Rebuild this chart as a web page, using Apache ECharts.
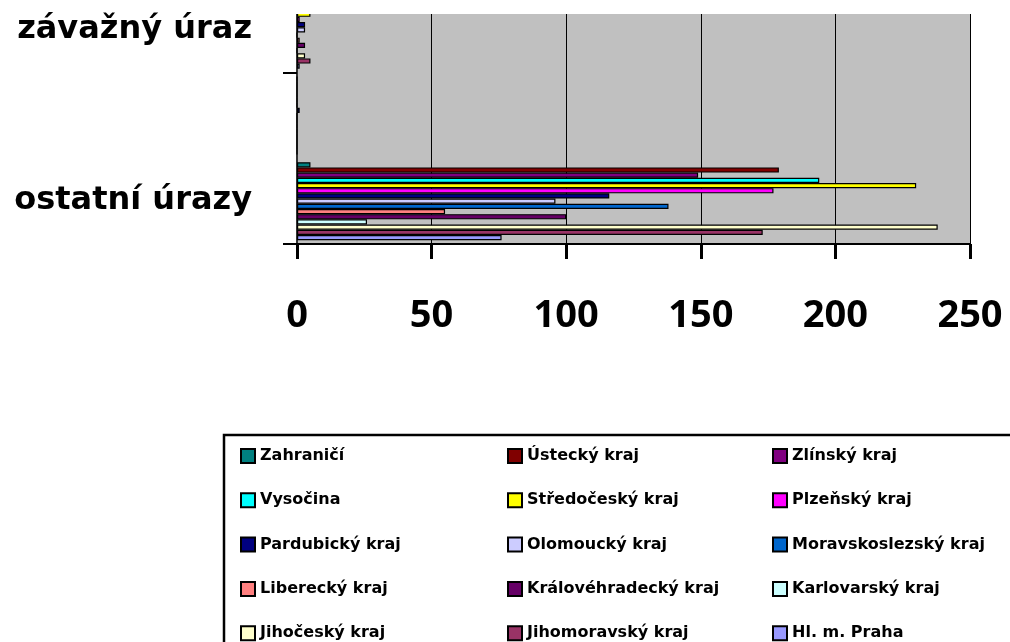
<!DOCTYPE html>
<html>
<head>
<meta charset="utf-8">
<script src="https://cdn.jsdelivr.net/npm/echarts@6/dist/echarts.min.js"></script>
<style>
html,body{margin:0;padding:0;background:#fff;overflow:hidden;}
#wrap{width:1010px;height:642px;overflow:hidden;position:relative;}
#chart{width:1010px;height:655px;position:absolute;left:0;top:-13px;}
</style>
</head>
<body>
<div id="wrap"><div id="chart"></div></div>
<script>
// Categories, bottom to top
const categories = ['ostatní úrazy', 'smrtelný úraz', 'závažný úraz'];
const xTicks = [0, 50, 100, 150, 200, 250];

const seriesNames = [
  'Zahraničí', 'Ústecký kraj', 'Zlínský kraj',
  'Vysočina', 'Středočeský kraj', 'Plzeňský kraj',
  'Pardubický kraj', 'Olomoucký kraj', 'Moravskoslezský kraj',
  'Liberecký kraj', 'Královéhradecký kraj', 'Karlovarský kraj',
  'Jihočeský kraj', 'Jihomoravský kraj', 'Hl. m. Praha'
];
const seriesColors = [
  '#008080', '#800000', '#800080',
  '#00FFFF', '#FFFF00', '#FF00FF',
  '#000080', '#CCCCFF', '#0066CC',
  '#FF8080', '#660066', '#CCFFFF',
  '#FFFFCC', '#993366', '#9999FF'
];
// values per series: [ostatní úrazy, smrtelný úraz, závažný úraz]
const valZahranici       = [5, 0, 1];
const valUstecky         = [179, 0, 2];
const valZlinsky         = [149, 0, 2];
const valVysocina        = [194, 0, 2];
const valStredocesky     = [230, 0, 5];
const valPlzensky        = [177, 0, 1];
const valPardubicky      = [116, 1, 3];
const valOlomoucky       = [96, 0, 3];
const valMoravskoslezsky = [138, 0, 0];
const valLiberecky       = [55, 0, 1];
const valKralovehradecky = [100, 0, 3];
const valKarlovarsky     = [26, 0, 0];
const valJihocesky       = [238, 0, 3];
const valJihomoravsky    = [173, 0, 5];
const valPraha           = [76, 0, 1];

const seriesValues = [
  valZahranici, valUstecky, valZlinsky,
  valVysocina, valStredocesky, valPlzensky,
  valPardubicky, valOlomoucky, valMoravskoslezsky,
  valLiberecky, valKralovehradecky, valKarlovarsky,
  valJihocesky, valJihomoravsky, valPraha
];

const FONT_NUM = '"Open Sans", "Noto Sans", sans-serif';
const FONT_TXT = '"DejaVu Sans", "Noto Sans", sans-serif';

const chart = echarts.init(document.getElementById('chart'), null, {renderer: 'canvas'});

const series = seriesNames.map((name, i) => ({
  name: name,
  type: 'bar',
  data: seriesValues[i],
  barGap: '0%',
  barCategoryGap: '9%',
  itemStyle: {color: seriesColors[i], borderColor: '#000', borderWidth: 1.2},
  emphasis: {disabled: true},
  animation: false
}));

function legendCol(left, names) {
  return {
    orient: 'vertical',
    left: left,
    top: 461,
    height: 300,
    padding: 0,
    itemWidth: 14,
    itemHeight: 14,
    itemGap: 28.3,
    icon: 'rect',
    selectedMode: false,
    itemStyle: {borderColor: '#000', borderWidth: 2},
    textStyle: {fontFamily: FONT_TXT, fontWeight: 'bold', fontSize: 16, color: '#000', lineHeight: 16},
    data: names
  };
}

const col1 = [], col2 = [], col3 = [];
seriesNames.forEach((n, i) => { [col1, col2, col3][i % 3].push(n); });

chart.setOption({
  animation: false,
  backgroundColor: '#fff',
  grid: {
    left: 297, right: 40, top: 0, bottom: 398,
    show: true, backgroundColor: '#C0C0C0', borderWidth: 0,
    containLabel: false
  },
  legend: [legendCol(240, col1), legendCol(507, col2), legendCol(772, col3)],
  xAxis: {
    type: 'value',
    min: xTicks[0],
    max: xTicks[xTicks.length - 1],
    interval: 50,
    axisLine: {show: true, lineStyle: {color: '#000', width: 2}},
    axisTick: {show: true, length: 15, lineStyle: {color: '#000', width: 3}},
    splitLine: {show: true, lineStyle: {color: '#000', width: 1}},
    axisLabel: {margin: 53, fontFamily: FONT_NUM, fontWeight: 'bold', fontSize: 38, color: '#000'}
  },
  yAxis: {
    type: 'category',
    data: categories,
    axisLine: {show: true, lineStyle: {color: '#333', width: 2}},
    axisTick: {show: true, length: 14, lineStyle: {color: '#000', width: 2}},
    axisLabel: {interval: 1, margin: 45, fontFamily: FONT_TXT, fontWeight: 'bold', fontSize: 32, color: '#000'},
    splitLine: {show: false}
  },
  series: series,
  graphic: [
    {type: 'rect', z: 100, shape: {x: 262, y: 0, width: 748, height: 27}, style: {fill: '#fff'}},
    {type: 'rect', z: 100, shape: {x: 224, y: 448, width: 900, height: 300}, style: {fill: 'none', stroke: '#000', lineWidth: 2.5}}
  ]
});
</script>
</body>
</html>
